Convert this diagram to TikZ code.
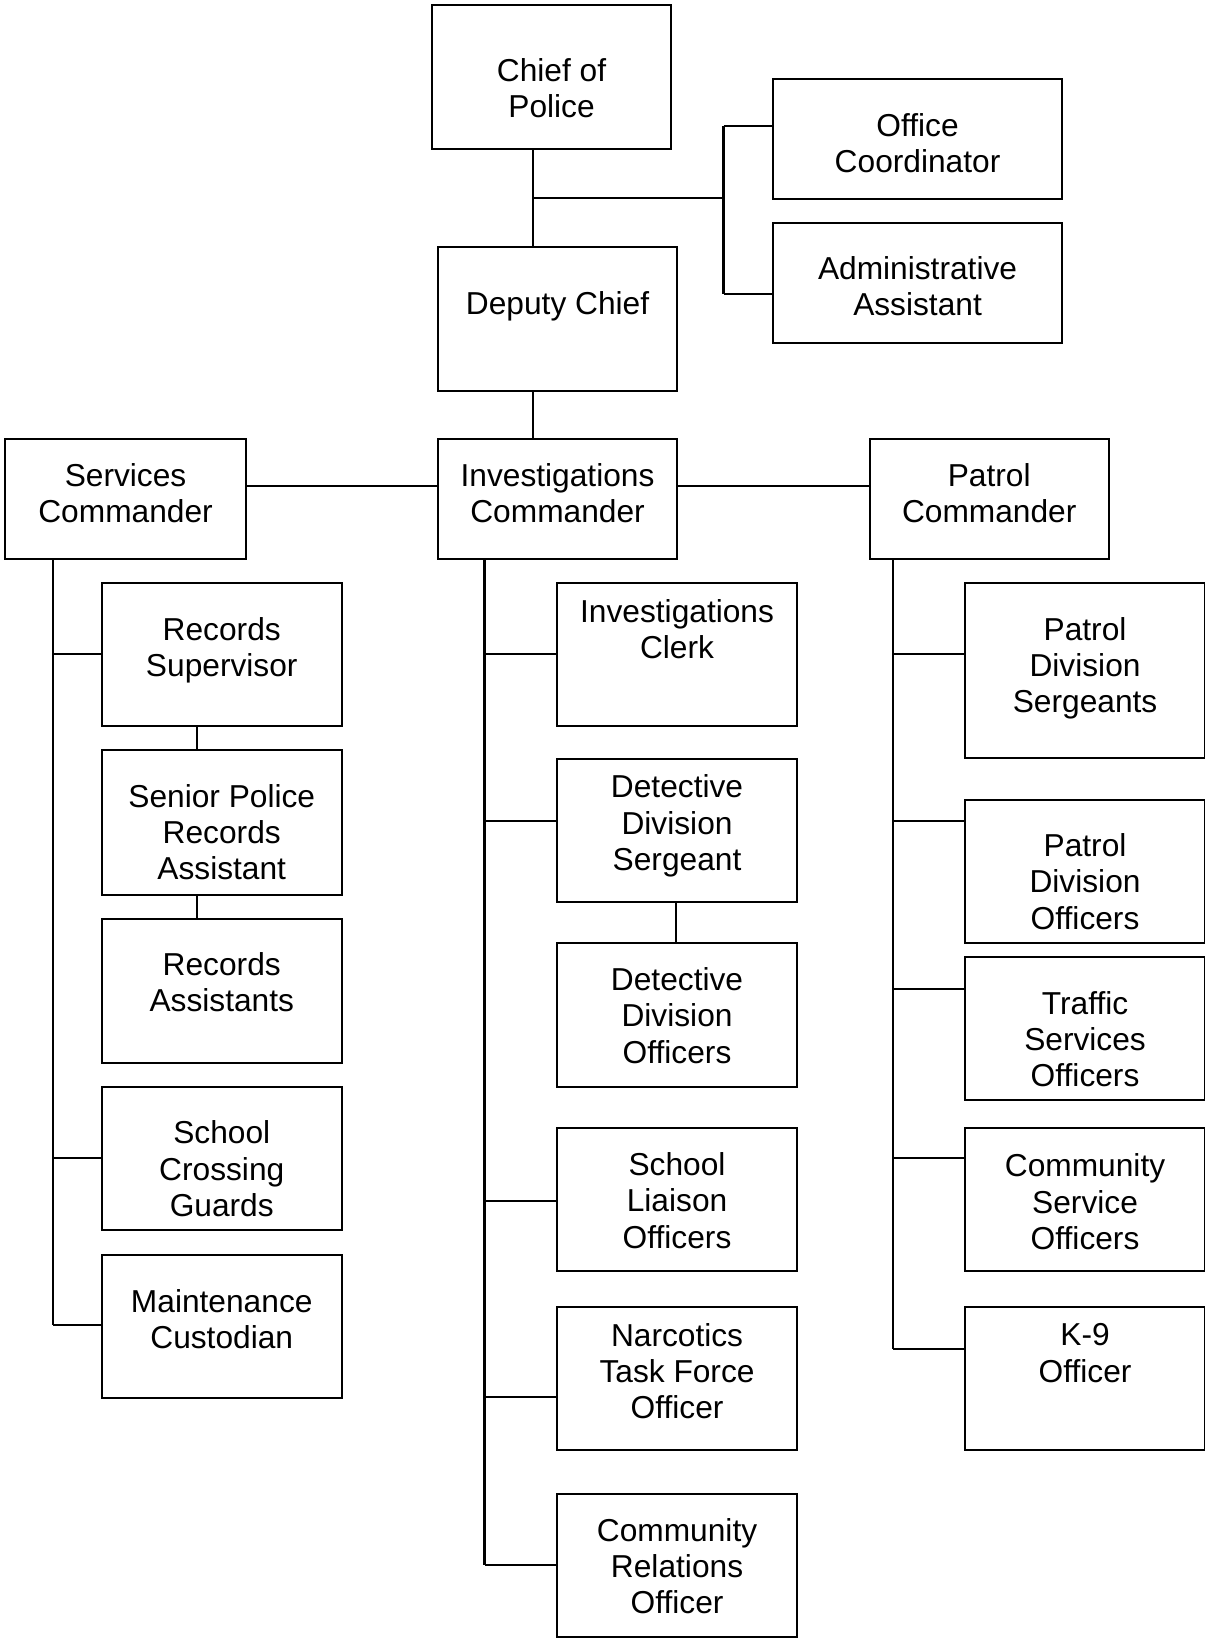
\documentclass[tikz,border=0pt]{standalone}
\usepackage{fontspec}
\setmainfont{Liberation Sans}
\begin{document}
\begin{tikzpicture}[x=1pt,y=-1pt,line width=2.1pt,
  box/.style={draw,line width=2.1pt,inner sep=0pt,anchor=north west,
    minimum width=240pt,minimum height=143.5pt},
  lbl/.style={align=center,inner sep=0pt,anchor=base,
    font=\fontsize{31.7}{36.3}\selectfont}]
\useasboundingbox (0,0) rectangle (1205,1639);

% ---- top of the hierarchy ----
\node[box,minimum width=239pt,minimum height=144pt] (chief) at (431,4) {};
\node[box,minimum width=289pt,minimum height=120pt] (office) at (772,77.7) {};
\node[box,minimum width=289pt,minimum height=120pt] (admin) at (772,221.7) {};
\node[box,minimum width=239pt,minimum height=144.3pt] (deputy) at (437,245.7) {};

% ---- commanders ----
\node[box,minimum width=241pt,minimum height=119.5pt] (services) at (4,438) {};
\node[box,minimum width=239pt,minimum height=119.5pt] (invcmd) at (437,438) {};
\node[box,minimum width=239.3pt,minimum height=119.5pt] (patrolcmd) at (868.5,438) {};

% ---- services division ----
\node[box,minimum height=142.7pt] (recsup) at (100.7,582.3) {};
\node[box,minimum height=144.3pt] (senior) at (100.7,749.3) {};
\node[box,minimum height=144.2pt] (recasst) at (100.7,917.6) {};
\node[box,minimum height=143.1pt] (crossing) at (100.7,1085.9) {};
\node[box,minimum height=143.2pt] (maint) at (100.7,1254.1) {};

% ---- investigations division ----
\node[box,minimum height=143pt] (clerk) at (556,582.1) {};
\node[box,minimum height=143.2pt] (detsgt) at (556,757.7) {};
\node[box,minimum height=144.3pt] (detoff) at (556,941.6) {};
\node[box] (liaison) at (556,1126.6) {};
\node[box,minimum height=143pt] (narc) at (556,1306) {};
\node[box,minimum height=143pt] (commrel) at (556,1493.3) {};

% ---- patrol division ----
\node[box,minimum height=174.6pt] (patsgt) at (964,582.1) {};
\node[box,minimum height=143pt] (patoff) at (964,798.5) {};
\node[box,minimum height=143pt] (traffic) at (964,956.3) {};
\node[box] (commsvc) at (964,1126.7) {};
\node[box,minimum height=143.6pt] (k9) at (964,1305.7) {};

% ---- labels (anchored on the baseline of their last line) ----
\node[lbl] (tchief) at ([yshift=-113.3pt]chief.north) {Chief of\\Police};
\node[lbl] (toffice) at ([yshift=-94.6pt]office.north) {Office\\Coordinator};
\node[lbl] (tadmin) at ([yshift=-93.9pt]admin.north) {Administrative\\Assistant};
\node[lbl] (tdeputy) at ([yshift=-68.3pt]deputy.north) {Deputy Chief};
\node[lbl] (tservices) at ([yshift=-84.8pt]services.north) {Services\\Commander};
\node[lbl] (tinvcmd) at ([yshift=-84.8pt]invcmd.north) {Investigations\\Commander};
\node[lbl] (tpatrolcmd) at ([yshift=-84.8pt]patrolcmd.north) {Patrol\\Commander};
\node[lbl] (trecsup) at ([yshift=-94.3pt]recsup.north) {Records\\Supervisor};
\node[lbl] (tsenior) at ([yshift=-130.6pt]senior.north) {Senior Police\\Records\\Assistant};
\node[lbl] (trecasst) at ([yshift=-94.3pt]recasst.north) {Records\\Assistants};
\node[lbl] (tcrossing) at ([yshift=-130.6pt]crossing.north) {School\\Crossing\\Guards};
\node[lbl] (tmaint) at ([yshift=-94.3pt]maint.north) {Maintenance\\Custodian};
\node[lbl] (tclerk) at ([yshift=-76.3pt]clerk.north) {Investigations\\Clerk};
\node[lbl] (tdetsgt) at ([yshift=-112.6pt]detsgt.north) {Detective\\Division\\Sergeant};
\node[lbl] (tdetoff) at ([yshift=-121.6pt]detoff.north) {Detective\\Division\\Officers};
\node[lbl] (tliaison) at ([yshift=-121.6pt]liaison.north) {School\\Liaison\\Officers};
\node[lbl] (tnarc) at ([yshift=-112.6pt]narc.north) {Narcotics\\Task Force\\Officer};
\node[lbl] (tcommrel) at ([yshift=-120.6pt]commrel.north) {Community\\Relations\\Officer};
\node[lbl] (tpatsgt) at ([yshift=-130.6pt]patsgt.north) {Patrol\\Division\\Sergeants};
\node[lbl] (tpatoff) at ([yshift=-130.6pt]patoff.north) {Patrol\\Division\\Officers};
\node[lbl] (ttraffic) at ([yshift=-130.6pt]traffic.north) {Traffic\\Services\\Officers};
\node[lbl] (tcommsvc) at ([yshift=-122.6pt]commsvc.north) {Community\\Service\\Officers};
\node[lbl] (tk9) at ([yshift=-76.3pt]k9.north) {K-9\\Officer};

% ---- bus lines and junction points ----
\coordinate (trunk) at (533,0);
\coordinate (staffjoin) at (533,198);
\coordinate (staffbus) at (723.5,0);
\coordinate (joffice) at (723.5,126);
\coordinate (jadmin) at (723.5,293.7);
\coordinate (crow) at (0,485.7);
\coordinate (sbus) at (52.7,0);
\coordinate (rlink) at (196.7,0);
\coordinate (ibus) at (484.5,0);
\coordinate (dlink) at (676.2,0);
\coordinate (pbus) at (892.6,0);

% chief, staff and deputy
\draw (trunk |- chief.south) -- (trunk |- deputy.north);
\draw (staffjoin) -- (staffjoin -| staffbus);
\draw (joffice) -- (jadmin);
\draw (joffice) -- (joffice -| office.west);
\draw (jadmin) -- (jadmin -| admin.west);
\draw (trunk |- deputy.south) -- (trunk |- invcmd.north);

% commander row
\draw (crow -| services.east) -- (crow -| invcmd.west);
\draw (crow -| invcmd.east) -- (crow -| patrolcmd.west);

% services division
\coordinate (s1) at (52.7,653.7);
\coordinate (s2) at (52.7,1158);
\coordinate (s3) at (52.7,1325.2);
\draw (sbus |- services.south) -- (s3);
\draw (s1) -- (s1 -| recsup.west);
\draw (s2) -- (s2 -| crossing.west);
\draw (s3) -- (s3 -| maint.west);
\draw (rlink |- recsup.south) -- (rlink |- senior.north);
\draw (rlink |- senior.south) -- (rlink |- recasst.north);

% investigations division
\coordinate (i1) at (484.5,654.2);
\coordinate (i2) at (484.5,821.4);
\coordinate (i3) at (484.5,1200.8);
\coordinate (i4) at (484.5,1397.3);
\coordinate (i5) at (484.5,1565);
\draw (ibus |- invcmd.south) -- (i5);
\draw (i1) -- (i1 -| clerk.west);
\draw (i2) -- (i2 -| detsgt.west);
\draw (i3) -- (i3 -| liaison.west);
\draw (i4) -- (i4 -| narc.west);
\draw (i5) -- (i5 -| commrel.west);
\draw (dlink |- detsgt.south) -- (dlink |- detoff.north);

% patrol division
\coordinate (p1) at (892.6,654.2);
\coordinate (p2) at (892.6,821.4);
\coordinate (p3) at (892.6,988.7);
\coordinate (p4) at (892.6,1158);
\coordinate (p5) at (892.6,1349.3);
\draw (pbus |- patrolcmd.south) -- (p5);
\draw (p1) -- (p1 -| patsgt.west);
\draw (p2) -- (p2 -| patoff.west);
\draw (p3) -- (p3 -| traffic.west);
\draw (p4) -- (p4 -| commsvc.west);
\draw (p5) -- (p5 -| k9.west);
\end{tikzpicture}
\end{document}
